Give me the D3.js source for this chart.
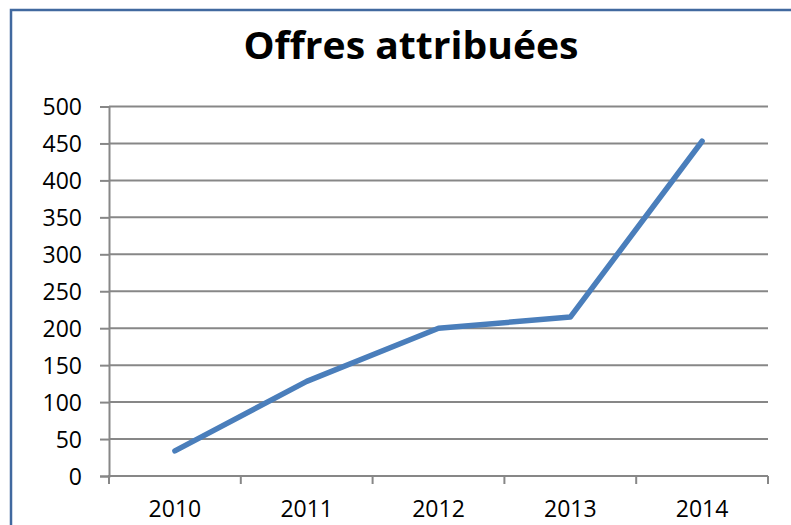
<!DOCTYPE html>
<html><head><meta charset="utf-8">
<script src="https://cdn.jsdelivr.net/npm/d3@7"></script>
<style>html,body{margin:0;padding:0;background:#fff;}svg{display:block;}</style>
</head><body>
<script>
const title = "Offres attribuées";
const years = ["2010","2011","2012","2013","2014"];
const values = [34, 128, 200, 215, 453];
const yTicks = [0,50,100,150,200,250,300,350,400,450,500];

const W = 791, H = 525;
const svg = d3.select("body").append("svg").attr("width", W).attr("height", H);
svg.append("rect").attr("width", W).attr("height", H).attr("fill", "#fff");

// chart border
svg.append("rect").attr("x", 11).attr("y", 10).attr("width", 800).attr("height", 600)
  .attr("fill", "none").attr("stroke", "#41699f").attr("stroke-width", 2.5);

const x = d3.scaleBand().domain(years).range([109, 768]).padding(0);
const y = d3.scaleLinear().domain([0, 500]).range([476, 106.5]);
const font = "'Open Sans', 'Liberation Sans', sans-serif";
const gridColor = "#878787";

// gridlines
svg.append("g").selectAll("line").data(yTicks.filter(d => d > 0)).join("line")
  .attr("x1", 109).attr("x2", 768)
  .attr("y1", d => y(d)).attr("y2", d => y(d))
  .attr("stroke", gridColor).attr("stroke-width", 2);

// y axis
const yAxis = svg.append("g").attr("transform", "translate(109,0)")
  .call(d3.axisLeft(y).tickValues(yTicks).tickSize(9).tickPadding(18));
yAxis.select(".domain").attr("stroke", gridColor).attr("stroke-width", 2);
yAxis.selectAll(".tick line").attr("stroke", gridColor).attr("stroke-width", 2);
yAxis.selectAll(".tick text").attr("font-family", font).attr("font-size", 23)
  .attr("fill", "#000").attr("dy", "0.36em").attr("x", -27);

// x axis
const xAxis = svg.append("g").attr("transform", "translate(0,476)")
  .call(d3.axisBottom(x).tickSize(0).tickPadding(0));
xAxis.select(".domain").remove();
svg.append("line").attr("x1", 108).attr("x2", 768).attr("y1", 476).attr("y2", 476)
  .attr("stroke", gridColor).attr("stroke-width", 2);
const bounds = years.map(d => x(d)).concat([x(years[years.length-1]) + x.bandwidth()]);
svg.append("g").selectAll("line").data(bounds).join("line")
  .attr("x1", d => d).attr("x2", d => d).attr("y1", 476).attr("y2", 484)
  .attr("stroke", gridColor).attr("stroke-width", 2);
xAxis.selectAll(".tick text").attr("font-family", font).attr("font-size", 23)
  .attr("fill", "#000").attr("y", 41).attr("dy", 0);

// line
const line = d3.line().x((d, i) => x(years[i]) + x.bandwidth() / 2).y(d => y(d));
svg.append("path").datum(values).attr("d", line)
  .attr("fill", "none").attr("stroke", "#4a7ebb").attr("stroke-width", 5.5)
  .attr("stroke-linecap", "round").attr("stroke-linejoin", "round");

// title
svg.append("text").attr("x", 411).attr("y", 59).attr("text-anchor", "middle")
  .attr("font-family", font).attr("font-weight", "bold").attr("font-size", 37)
  .attr("fill", "#000").attr("textLength", 335).attr("lengthAdjust", "spacingAndGlyphs")
  .text(title);
</script>
</body></html>
